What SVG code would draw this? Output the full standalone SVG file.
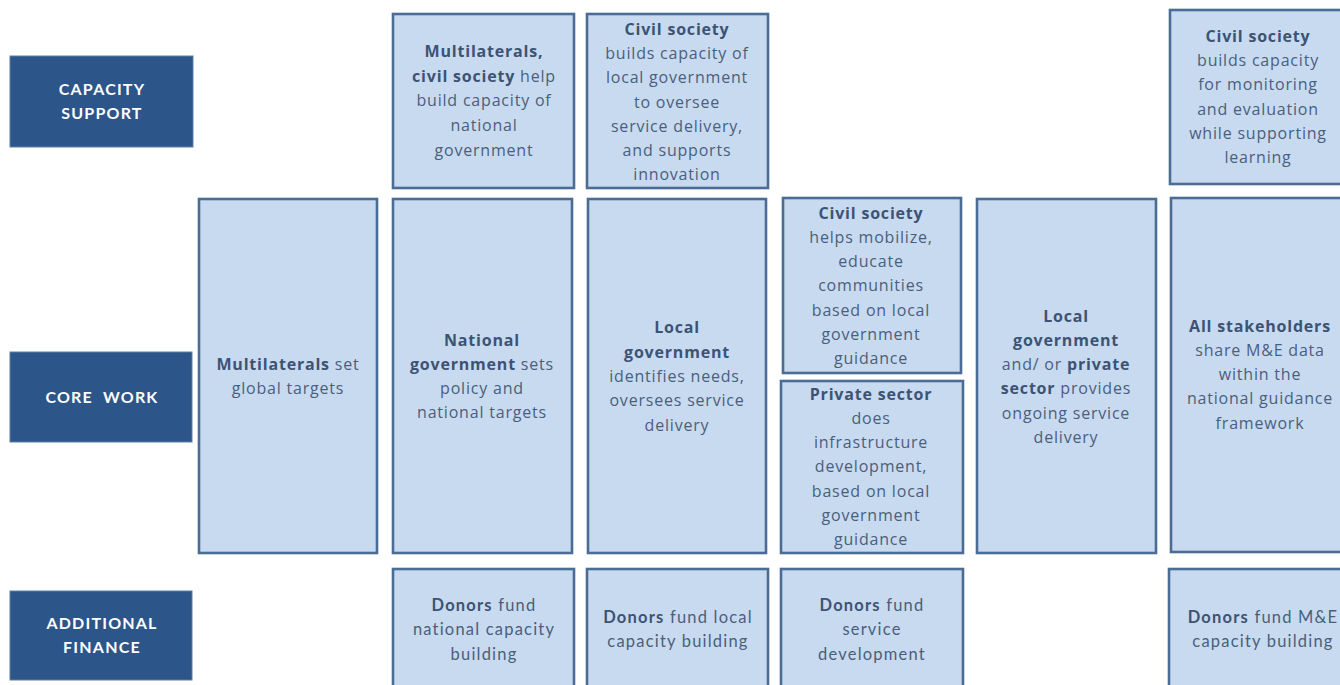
<svg xmlns="http://www.w3.org/2000/svg" width="1340" height="685" viewBox="0 0 1340 685">
  <style>
    .lbl rect { fill: #2C5689; stroke: #5C7FA8; stroke-width: 1; }
    .lbl text { font-family: Lato, "Liberation Sans", sans-serif; font-weight: bold; font-size: 16px; letter-spacing: 1.2px; word-spacing: 5px; fill: #FFFFFF; text-anchor: middle; }
    .box rect { fill: #C8DAF0; stroke: #4B6C95; stroke-width: 2.6; }
    .box text { font-family: "Open Sans", "Liberation Sans", sans-serif; font-size: 16px; letter-spacing: 0.8px; fill: #4A5F7C; text-anchor: middle; }
    .fin text { font-family: Lato, "Liberation Sans", sans-serif; font-size: 16.5px; letter-spacing: 1.2px; }
    .b { font-weight: bold; fill: #3D5374; }
  </style>
  <rect width="1340" height="685" fill="#FFFFFF"/>

  <!-- row labels -->
  <g id="label-capacity" class="lbl">
    <rect x="10" y="56" width="183" height="91"/>
    <text x="102" y="95">CAPACITY</text>
    <text x="102" y="119">SUPPORT</text>
  </g>
  <g id="label-core" class="lbl">
    <rect x="10" y="352" width="182" height="90"/>
    <text x="102" y="403">CORE WORK</text>
  </g>
  <g id="label-finance" class="lbl">
    <rect x="10" y="591" width="182" height="89"/>
    <text x="102" y="629">ADDITIONAL</text>
    <text x="102" y="653">FINANCE</text>
  </g>

  <!-- capacity support row -->
  <g id="cap-national" class="box">
    <rect x="393" y="14" width="181" height="174"/>
    <text x="484" y="57"><tspan class="b">Multilaterals,</tspan></text>
    <text x="484" y="82"><tspan class="b">civil society</tspan> help</text>
    <text x="484" y="106">build capacity of</text>
    <text x="484" y="131">national</text>
    <text x="484" y="156">government</text>
  </g>
  <g id="cap-local" class="box">
    <rect x="587" y="14" width="181" height="174"/>
    <text x="677" y="35"><tspan class="b">Civil society</tspan></text>
    <text x="677" y="59">builds capacity of</text>
    <text x="677" y="83">local government</text>
    <text x="677" y="108">to oversee</text>
    <text x="677" y="132">service delivery,</text>
    <text x="677" y="156">and supports</text>
    <text x="677" y="180">innovation</text>
  </g>
  <g id="cap-me" class="box">
    <rect x="1170" y="10" width="180" height="174"/>
    <text x="1258" y="42"><tspan class="b">Civil society</tspan></text>
    <text x="1258" y="66">builds capacity</text>
    <text x="1258" y="90">for monitoring</text>
    <text x="1258" y="115">and evaluation</text>
    <text x="1258" y="139">while supporting</text>
    <text x="1258" y="163">learning</text>
  </g>

  <!-- core work row -->
  <g id="core-multilaterals" class="box">
    <rect x="199" y="199" width="178" height="354"/>
    <text x="288" y="370"><tspan class="b">Multilaterals</tspan> set</text>
    <text x="288" y="394">global targets</text>
  </g>
  <g id="core-national" class="box">
    <rect x="393" y="199" width="179" height="354"/>
    <text x="482" y="346"><tspan class="b">National</tspan></text>
    <text x="482" y="370"><tspan class="b">government</tspan> sets</text>
    <text x="482" y="394">policy and</text>
    <text x="482" y="418">national targets</text>
  </g>
  <g id="core-local" class="box">
    <rect x="588" y="199" width="178" height="354"/>
    <text x="677" y="333"><tspan class="b">Local</tspan></text>
    <text x="677" y="358"><tspan class="b">government</tspan></text>
    <text x="677" y="382">identifies needs,</text>
    <text x="677" y="406">oversees service</text>
    <text x="677" y="431">delivery</text>
  </g>
  <g id="core-civil" class="box">
    <rect x="783" y="198" width="178" height="175"/>
    <text x="871" y="219"><tspan class="b">Civil society</tspan></text>
    <text x="871" y="243">helps mobilize,</text>
    <text x="871" y="267">educate</text>
    <text x="871" y="291">communities</text>
    <text x="871" y="316">based on local</text>
    <text x="871" y="340">government</text>
    <text x="871" y="364">guidance</text>
  </g>
  <g id="core-private" class="box">
    <rect x="781" y="381" width="182" height="172"/>
    <text x="871" y="400"><tspan class="b">Private sector</tspan></text>
    <text x="871" y="424">does</text>
    <text x="871" y="448">infrastructure</text>
    <text x="871" y="472">development,</text>
    <text x="871" y="497">based on local</text>
    <text x="871" y="521">government</text>
    <text x="871" y="545">guidance</text>
  </g>
  <g id="core-delivery" class="box">
    <rect x="977" y="199" width="179" height="354"/>
    <text x="1066" y="322"><tspan class="b">Local</tspan></text>
    <text x="1066" y="346"><tspan class="b">government</tspan></text>
    <text x="1066" y="370">and/ or <tspan class="b">private</tspan></text>
    <text x="1066" y="394"><tspan class="b">sector</tspan> provides</text>
    <text x="1066" y="419">ongoing service</text>
    <text x="1066" y="443">delivery</text>
  </g>
  <g id="core-me" class="box">
    <rect x="1171" y="198" width="180" height="354"/>
    <text x="1260" y="332"><tspan class="b">All stakeholders</tspan></text>
    <text x="1260" y="356">share M&amp;E data</text>
    <text x="1260" y="380">within the</text>
    <text x="1260" y="404">national guidance</text>
    <text x="1260" y="429">framework</text>
  </g>

  <!-- additional finance row -->
  <g id="fin-national" class="box fin">
    <rect x="393" y="569" width="181" height="130"/>
    <text x="484" y="611"><tspan class="b">Donors</tspan> fund</text>
    <text x="484" y="635">national capacity</text>
    <text x="484" y="660">building</text>
  </g>
  <g id="fin-local" class="box fin">
    <rect x="587" y="569" width="181" height="130"/>
    <text x="678" y="623"><tspan class="b">Donors</tspan> fund local</text>
    <text x="678" y="647">capacity building</text>
  </g>
  <g id="fin-service" class="box fin">
    <rect x="781" y="569" width="182" height="130"/>
    <text x="872" y="611"><tspan class="b">Donors</tspan> fund</text>
    <text x="872" y="635">service</text>
    <text x="872" y="660">development</text>
  </g>
  <g id="fin-me" class="box fin">
    <rect x="1169" y="569" width="182" height="130"/>
    <text x="1263" y="623"><tspan class="b">Donors</tspan> fund M&amp;E</text>
    <text x="1263" y="647">capacity building</text>
  </g>

  <g id="connectors"></g>
</svg>
